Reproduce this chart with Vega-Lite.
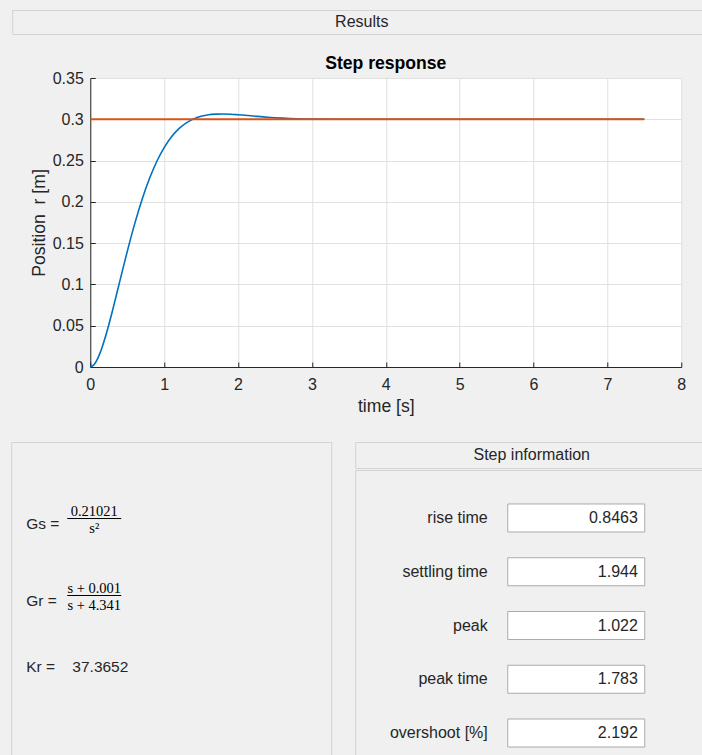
{
  "$schema": "https://vega.github.io/schema/vega-lite/v6.json",
  "background": "#f0f0f0",
  "padding": {"left": 10, "top": 9, "right": 0, "bottom": 0},
  "bounds": "full",
  "center": true,
  "spacing": 20,
  "config": {
    "font": "Liberation Sans",
    "view": {"stroke": null},
    "concat": {"spacing": 0}
  },
  "datasets": {
    "step": [
      {"t": 0, "r": 0}, {"t": 0.05, "r": 0.0027}, {"t": 0.1, "r": 0.0102}, {"t": 0.15, "r": 0.0212},
      {"t": 0.2, "r": 0.0351}, {"t": 0.25, "r": 0.0509}, {"t": 0.3, "r": 0.068}, {"t": 0.4, "r": 0.104},
      {"t": 0.5, "r": 0.1397}, {"t": 0.6, "r": 0.173}, {"t": 0.7, "r": 0.2026}, {"t": 0.8, "r": 0.2279},
      {"t": 0.9, "r": 0.2489}, {"t": 1.0, "r": 0.2657}, {"t": 1.1, "r": 0.2788}, {"t": 1.2, "r": 0.2886},
      {"t": 1.3, "r": 0.2957}, {"t": 1.4, "r": 0.3005}, {"t": 1.5, "r": 0.3036}, {"t": 1.6, "r": 0.3055},
      {"t": 1.7, "r": 0.3062}, {"t": 1.8, "r": 0.3064}, {"t": 1.9, "r": 0.3061}, {"t": 2.0, "r": 0.3055},
      {"t": 2.2, "r": 0.304}, {"t": 2.4, "r": 0.3025}, {"t": 2.6, "r": 0.3014}, {"t": 2.8, "r": 0.3006},
      {"t": 3.0, "r": 0.3002}, {"t": 3.4, "r": 0.3}, {"t": 4, "r": 0.3}, {"t": 5, "r": 0.3},
      {"t": 6, "r": 0.3}, {"t": 7, "r": 0.3}, {"t": 7.5, "r": 0.3}
    ],
    "ref": [{"t": 0, "r": 0.3}, {"t": 7.5, "r": 0.3}],
    "form": [
      {"name": "Gs", "label": "Gs =", "num": "0.21021", "den": "s²"},
      {"name": "Gr", "label": "Gr =", "num": "s + 0.001", "den": "s + 4.341"},
      {"name": "Kr", "label": "Kr =\u00a0\u00a0\u00a0\u00a037.3652"}
    ],
    "info": [
      {"label": "rise time", "value": "0.8463"},
      {"label": "settling time", "value": "1.944"},
      {"label": "peak", "value": "1.022"},
      {"label": "peak time", "value": "1.783"},
      {"label": "overshoot [%]", "value": "2.192"}
    ]
  },
  "vconcat": [
    {
      "width": 751,
      "height": 24,
      "view": {"stroke": "#d2d2d2", "fill": "#f0f0f0"},
      "data": {"values": [{"h": "Results"}]},
      "mark": {"type": "text", "fontSize": 16, "color": "#262626", "dx": -26},
      "encoding": {"text": {"field": "h"}}
    },
    {
      "width": 591,
      "height": 289,
      "view": {"fill": "white", "stroke": null},
      "title": {"text": "Step response", "fontSize": 17.6, "fontWeight": "bold", "color": "#000000", "offset": -3, "frame": "group", "anchor": "middle"},
      "encoding": {
        "x": {
          "field": "t", "type": "quantitative",
          "scale": {"domain": [0, 8], "nice": false, "zero": false},
          "axis": {
            "values": [0, 1, 2, 3, 4, 5, 6, 7, 8],
            "title": ["time [s]", ""],
            "titleLineHeight": 5.5,
            "titleFontSize": 17.6, "titleFontWeight": "normal", "titleColor": "#262626", "titlePadding": 5,
            "labelFontSize": 16, "labelColor": "#262626", "labelPadding": 14, "labelFlush": false, "labelOverlap": false,
            "tickSize": -5, "tickColor": "#262626", "domainColor": "#262626",
            "grid": true, "gridColor": "#e0e0e0"
          }
        },
        "y": {
          "field": "r", "type": "quantitative",
          "scale": {"domain": [0, 0.35], "nice": false},
          "axis": {
            "values": [0, 0.05, 0.1, 0.15, 0.2, 0.25, 0.3, 0.35],
            "format": "~g",
            "title": "Position \u00a0r [m]",
            "titleFontSize": 17.6, "titleFontWeight": "normal", "titleColor": "#262626", "titlePadding": 4,
            "labelFontSize": 16, "labelColor": "#262626", "labelPadding": 12, "labelFlush": false, "labelOverlap": false,
            "tickSize": -5, "tickColor": "#262626", "domainColor": "#262626",
            "grid": true, "gridColor": "#e0e0e0"
          }
        }
      },
      "layer": [
        {"data": {"name": "step"}, "mark": {"type": "line", "color": "#0072BD", "strokeWidth": 1.6, "interpolate": "monotone"}},
        {"data": {"name": "ref"}, "mark": {"type": "line", "color": "#D95319", "strokeWidth": 2}}
      ]
    },
    {
      "spacing": 22,
      "hconcat": [
        {
          "width": 320,
          "height": 330,
          "view": {"stroke": "#d2d2d2", "fill": "#f0f0f0"},
          "data": {"name": "form"},
          "encoding": {
            "y": {"field": "name", "type": "nominal", "sort": null, "axis": null,
                  "scale": {"type": "band", "paddingInner": 0, "paddingOuter": 0.643, "align": 0.384}},
            "x": {"datum": "frac", "type": "nominal", "bandPosition": 0.6375, "axis": null,
                  "scale": {"type": "band", "domain": ["frac"], "paddingInner": 0, "paddingOuter": 1, "align": 0.0703}}
          },
          "layer": [
            {
              "transform": [{"filter": "isValid(datum.num)"}],
              "mark": {"type": "text", "align": "left", "dy": 5, "fontSize": 15.5, "color": "#262626"},
              "encoding": {
                "x": {"datum": "frac", "type": "nominal", "bandPosition": 0},
                "text": {"field": "label"}
              }
            },
            {
              "transform": [{"filter": "!isValid(datum.num)"}],
              "mark": {"type": "text", "align": "left", "dy": -5.5, "fontSize": 15.5, "color": "#262626"},
              "encoding": {
                "x": {"datum": "frac", "type": "nominal", "bandPosition": 0},
                "text": {"field": "label"}
              }
            },
            {
              "transform": [{"filter": "isValid(datum.num)"}],
              "mark": {"type": "text", "font": "Liberation Serif", "fontSize": 14.5, "dy": -6.5, "color": "#000000"},
              "encoding": {"text": {"field": "num"}}
            },
            {
              "transform": [{"filter": "isValid(datum.den)"}],
              "mark": {"type": "text", "font": "Liberation Serif", "fontSize": 14.5, "dy": 10, "color": "#000000"},
              "encoding": {"text": {"field": "den"}}
            },
            {
              "transform": [{"filter": "isValid(datum.num)"}],
              "mark": {"type": "rule", "strokeWidth": 1, "color": "#000000"},
              "encoding": {
                "x": {"datum": "frac", "type": "nominal", "bandPosition": 0.3844},
                "x2": {"datum": "frac", "bandPosition": 0.8906},
                "y": {"field": "name", "type": "nominal", "sort": null, "bandPosition": 0.5}
              }
            }
          ]
        },
        {
          "spacing": 0,
          "vconcat": [
            {
              "width": 409,
              "height": 26,
              "view": {"stroke": "#d2d2d2", "fill": "#f0f0f0"},
              "data": {"values": [{"h": "Step information"}]},
              "mark": {"type": "text", "fontSize": 16, "color": "#262626", "dx": -28},
              "encoding": {"text": {"field": "h"}}
            },
            {
              "width": 409,
              "height": 311,
              "view": {"stroke": "#d2d2d2", "fill": "#f0f0f0"},
              "data": {"name": "info"},
              "encoding": {
                "y": {"field": "label", "type": "nominal", "sort": null, "axis": null,
                      "scale": {"type": "band", "paddingInner": 0.479, "paddingOuter": 0.632}}
              },
              "layer": [
                {
                  "mark": {"type": "rect", "fill": "white", "stroke": "#ababab", "strokeWidth": 1},
                  "encoding": {
                    "x": {"datum": "box", "type": "nominal", "axis": null,
                          "scale": {"type": "band", "domain": ["box"], "paddingInner": 0, "paddingOuter": 0.9927, "align": 0.5607}}
                  }
                },
                {
                  "mark": {"type": "text", "align": "right", "fontSize": 16, "color": "#262626"},
                  "encoding": {"x": {"datum": "box", "type": "nominal", "bandPosition": 0.95}, "text": {"field": "value"}}
                },
                {
                  "mark": {"type": "text", "align": "right", "dx": -20, "fontSize": 16, "color": "#262626"},
                  "encoding": {"x": {"datum": "box", "type": "nominal", "bandPosition": 0}, "text": {"field": "label"}}
                }
              ]
            }
          ]
        }
      ]
    }
  ]
}
